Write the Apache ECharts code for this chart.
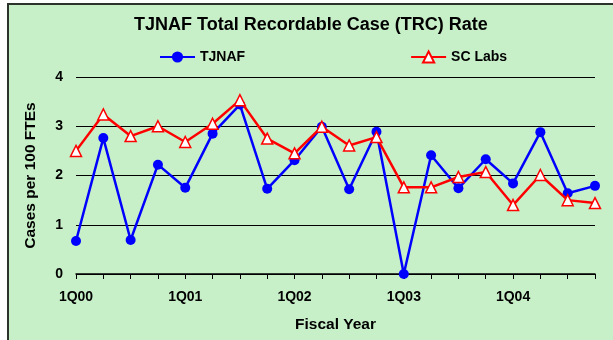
<!DOCTYPE html>
<html><head><meta charset="utf-8">
<script src="https://cdn.jsdelivr.net/npm/echarts@6/dist/echarts.min.js"></script>
<style>html,body{margin:0;padding:0;background:#fff}#c{width:613px;height:340px}</style>
</head><body><div id="c"></div>
<script>
const categories = ["1Q00","2Q00","3Q00","4Q00","1Q01","2Q01","3Q01","4Q01","1Q02","2Q02","3Q02","4Q02","1Q03","2Q03","3Q03","4Q03","1Q04","2Q04","3Q04","4Q04"];
const tjnaf = [0.67,2.76,0.69,2.22,1.75,2.85,3.44,1.73,2.31,2.99,1.72,2.89,0,2.41,1.74,2.33,1.84,2.88,1.64,1.79];
const scLabs = [2.5,3.24,2.8,3.0,2.68,3.05,3.53,2.75,2.45,2.99,2.61,2.78,1.76,1.76,1.97,2.07,1.4,2.01,1.5,1.44];
const yTicks = [0,1,2,3,4];
const font = "Liberation Sans, Arial, sans-serif";
const chart = echarts.init(document.getElementById('c'));
chart.setOption({
  backgroundColor: '#ffffff',
  animation: false,
  graphic: [{type:'rect', z:-10, shape:{x:8,y:4,width:640,height:360}, style:{fill:'#c8f0c8', stroke:'#2b332b', lineWidth:2}}],
  title: {text:'TJNAF Total Recordable Case (TRC) Rate', left:134, top:16, padding:0,
    textStyle:{fontFamily:font, fontWeight:'bold', fontSize:18, color:'#000'}},
  legend: {top:50, left:159, padding:0, itemGap:165, itemWidth:35, itemHeight:14,
    textStyle:{fontFamily:font, fontWeight:'bold', fontSize:14, color:'#000'},
    data:['TJNAF','SC Labs']},
  grid: {left:76, right:18, top:77, bottom:66},
  xAxis: {type:'category', data:categories, boundaryGap:false,
    name:'Fiscal Year', nameLocation:'middle', nameGap:43,
    nameTextStyle:{fontFamily:font, fontWeight:'bold', fontSize:15.5, color:'#000'},
    axisLine:{lineStyle:{color:'#000', width:1.5}},
    axisTick:{interval:0, length:5, lineStyle:{color:'#000'}},
    axisLabel:{interval:3, margin:16, fontFamily:font, fontWeight:'bold', fontSize:14, color:'#000'}},
  yAxis: {type:'value', min:yTicks[0], max:yTicks[yTicks.length-1], interval:1,
    name:'Cases per 100 FTEs', nameLocation:'middle', nameGap:37,
    nameTextStyle:{fontFamily:font, fontWeight:'bold', fontSize:15.5, color:'#000'},
    axisLine:{show:false}, axisTick:{show:false},
    axisLabel:{margin:13, fontFamily:font, fontWeight:'bold', fontSize:14, color:'#000'},
    splitLine:{lineStyle:{color:'#000', width:1.2}}},
  series: [
    {name:'TJNAF', type:'line', data:tjnaf, symbol:'circle', symbolSize:10,
     lineStyle:{color:'#0000ff', width:2.5}, itemStyle:{color:'#0000ff'}, z:3},
    {name:'SC Labs', type:'line', data:scLabs, symbol:'triangle', symbolSize:11,
     lineStyle:{color:'#ff0000', width:2.5}, itemStyle:{color:'#ffffff', borderColor:'#ff0000', borderWidth:1.5}, z:4}
  ]
});
</script></body></html>
